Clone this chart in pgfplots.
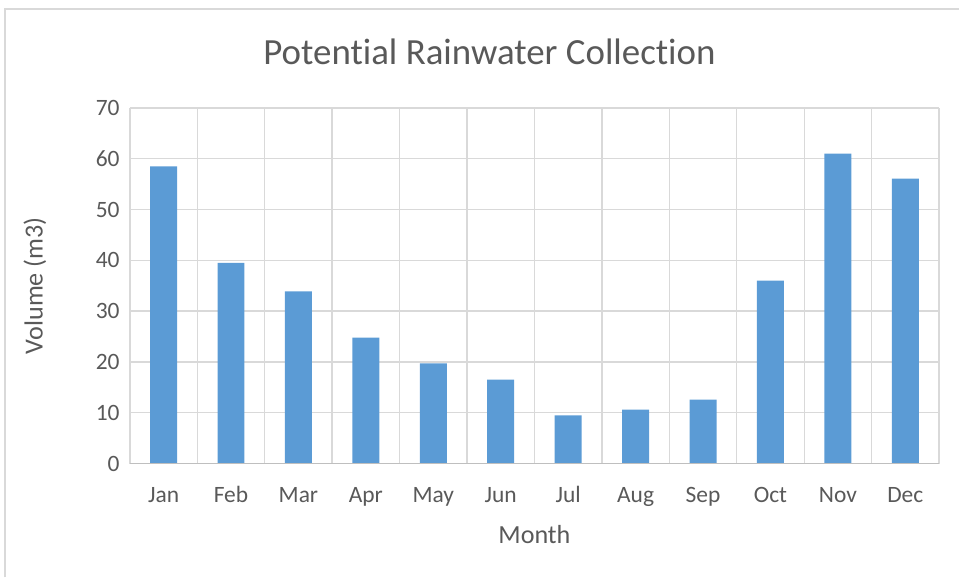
\documentclass[border=0pt]{standalone}
\usepackage{pgfplots}
\pgfplotsset{compat=1.18}
\usepackage{fontspec}
\setmainfont{Carlito}[Ligatures={NoCommon}]
\definecolor{barblue}{HTML}{5B9BD5}
\definecolor{txtgray}{HTML}{595959}
\definecolor{gridgray}{HTML}{D9D9D9}
\definecolor{axisgray}{HTML}{BFBFBF}
\begin{document}
\begin{tikzpicture}[x=0.75pt,y=0.75pt]
\path (0,0) rectangle (960,578);
\draw[gridgray, line width=1.5pt] (5,0) -- (5,569) -- (960,569);
\node[txtgray, font=\fontsize{27.7}{32}\selectfont] at (490,526) {Potential Rainwater Collection};
\node[txtgray, font=\fontsize{19.6}{24}\selectfont] at (535,43) {Month};
\node[txtgray, font=\fontsize{19.6}{24}\selectfont, rotate=90] at (35,292) {Volume (m3)};
\begin{axis}[
  at={(97.5pt,85.5pt)}, anchor=south west,
  width=607.5pt, height=267pt, scale only axis,
  xmin=-0.5, xmax=11.5, ymin=0, ymax=70,
  xtick={0,...,11},
  xticklabels={Jan,Feb,Mar,Apr,May,Jun,Jul,Aug,Sep,Oct,Nov,Dec},
  minor xtick={-0.5,0.5,...,11.5},
  ytick={0,10,...,70},
  major tick length=0pt, minor tick length=0pt,
  xminorgrids=true, ymajorgrids=true, xmajorgrids=false,
  grid style={gridgray, line width=1pt},
  minor grid style={gridgray, line width=1pt},
  axis line style={draw=none},
  /pgf/number format/assume math mode=true,
  tick label style={txtgray, font=\fontsize{17.6}{20}\selectfont, inner sep=0pt},
  xticklabel style={anchor=base, yshift=-29.5pt},
  yticklabel style={anchor=east, xshift=-7.5pt},
  clip=false,
]
\addplot[ybar, bar width=0.4, fill=barblue, draw=none] coordinates {
  (0,58.5) (1,39.5) (2,33.9) (3,24.8) (4,19.7) (5,16.5)
  (6,9.5) (7,10.6) (8,12.6) (9,36.0) (10,61.0) (11,56.1)
};
\draw[axisgray, line width=1.1pt] (axis cs:-0.5,0) -- (axis cs:11.5,0);
\end{axis}
\end{tikzpicture}
\end{document}
